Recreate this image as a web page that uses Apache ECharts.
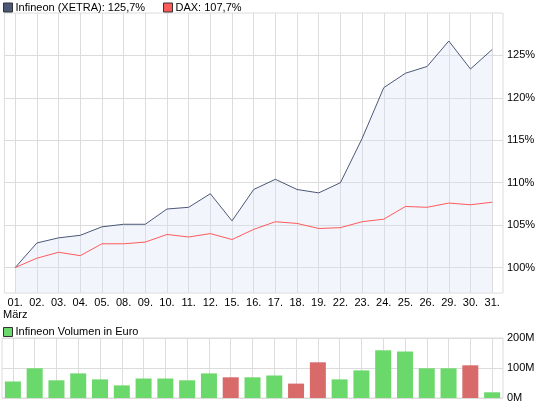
<!DOCTYPE html>
<html><head><meta charset="utf-8">
<script src="https://cdn.jsdelivr.net/npm/echarts@6/dist/echarts.min.js"></script>
<style>html,body{margin:0;padding:0;background:#fff}#c{width:545px;height:407px}</style>
</head><body><div id="c"></div>
<script>
const days = ['01.','02.','03.','04.','05.','08.','09.','10.','11.','12.','15.','16.','17.','18.','19.','22.','23.','24.','25.','26.','29.','30.','31.'];
const monthLabel = 'März';
const infineonName = 'Infineon (XETRA)';
const daxName = 'DAX';
const volumeName = 'Infineon Volumen in Euro';
const infineon = [100,102.9,103.5,103.8,104.8,105.1,105.1,106.9,107.1,108.7,105.5,109.2,110.4,109.2,108.8,110.0,115.2,121.2,122.9,123.7,126.7,123.4,125.7];
const dax = [100,101.1,101.8,101.4,102.8,102.8,103.0,103.9,103.6,104.0,103.3,104.5,105.4,105.2,104.6,104.7,105.4,105.7,107.2,107.1,107.6,107.4,107.7];
const volumeM = [55,99,59,82,62,42,65,65,59,82,69,69,75,48,119,62,92,159,155,99,99,109,19];
const priceTicks = [100,105,110,115,120,125];
const volumeTicks = [0,100,200];

const FONT = "'Liberation Sans', Arial, sans-serif";
const GRID = '#dcdcdc';
const C_INF = '#4c5878';
const C_DAX = '#ff5a5a';
const C_UP = '#6ad86a';
const C_DN = '#d86a6a';
const idx = days.map((d, i) => i);
const pct = v => v.toFixed(1).replace('.', ',') + '%';

const chart = echarts.init(document.getElementById('c'), null, {renderer: 'canvas'});
const legendBase = {
  orient: 'horizontal', icon: 'rect', itemWidth: 9, itemHeight: 9, padding: 0,
  itemStyle: {borderColor: '#333', borderWidth: 1},
  textStyle: {fontFamily: FONT, fontSize: 11, color: '#000', padding: [0,0,0,-2]},
  selectedMode: false
};
const xBase = {
  type: 'value', min: -0.5, max: days.length - 0.5,
  axisLine: {show: false},
  axisTick: {show: false, customValues: idx},
  splitLine: {show: true, lineStyle: {color: GRID, width: 1}}
};
chart.setOption({
  animation: false,
  textStyle: {fontFamily: FONT},
  legend: [
    Object.assign({}, legendBase, {left: 3, top: 2, data: [infineonName],
      formatter: n => n + ': ' + pct(infineon[infineon.length - 1])}),
    Object.assign({}, legendBase, {left: 163, top: 2, data: [daxName],
      formatter: n => n + ': ' + pct(dax[dax.length - 1])}),
    Object.assign({}, legendBase, {left: 3, top: 326.5, data: [volumeName]})
  ],
  grid: [
    {left: 2, right: 42, top: 13, bottom: 114, show: true, borderColor: GRID, borderWidth: 1, backgroundColor: 'transparent'},
    {left: 2, right: 42, top: 338, bottom: 9, show: true, borderColor: GRID, borderWidth: 1, backgroundColor: 'transparent'}
  ],
  xAxis: [
    Object.assign({}, xBase, {gridIndex: 0,
      axisLabel: {show: true, customValues: idx, margin: 4, color: '#000', fontFamily: FONT, fontSize: 11, lineHeight: 12,
        formatter: v => v === 0 ? days[0] + '\n' + monthLabel : days[v]}}),
    Object.assign({}, xBase, {gridIndex: 1, axisLabel: {show: false}})
  ],
  yAxis: [
    {type: 'value', gridIndex: 0, position: 'right', min: 97, max: 130,
      axisLine: {show: false}, axisTick: {show: false, customValues: priceTicks},
      axisLabel: {customValues: priceTicks, margin: 4, color: '#000', fontFamily: FONT, fontSize: 11, formatter: v => v + '%'},
      splitLine: {show: true, lineStyle: {color: GRID, width: 1}}},
    {type: 'value', gridIndex: 1, position: 'right', min: 0, max: 200, interval: 100,
      axisLine: {show: false}, axisTick: {show: false},
      axisLabel: {margin: 4, color: '#000', fontFamily: FONT, fontSize: 11, formatter: v => v + 'M'},
      splitLine: {show: true, lineStyle: {color: GRID, width: 1}}}
  ],
  series: [
    {name: infineonName, type: 'line', xAxisIndex: 0, yAxisIndex: 0, z: 2,
      color: C_INF, symbol: 'none', showSymbol: false,
      data: infineon.map((v, i) => [i, v]),
      lineStyle: {color: C_INF, width: 1},
      areaStyle: {color: 'rgba(215,224,245,0.45)', origin: 'start'}},
    {name: daxName, type: 'line', xAxisIndex: 0, yAxisIndex: 0, z: 3,
      color: C_DAX, symbol: 'none', showSymbol: false,
      data: dax.map((v, i) => [i, v]),
      lineStyle: {color: C_DAX, width: 1}},
    {name: volumeName, type: 'bar', xAxisIndex: 1, yAxisIndex: 1, barWidth: 16,
      color: C_UP, itemStyle: {color: C_UP},
      data: volumeM.map((v, i) => ({value: [i, v],
        itemStyle: {color: (i > 0 && infineon[i] < infineon[i - 1]) ? C_DN : C_UP}}))}
  ]
});
</script>
</body></html>
